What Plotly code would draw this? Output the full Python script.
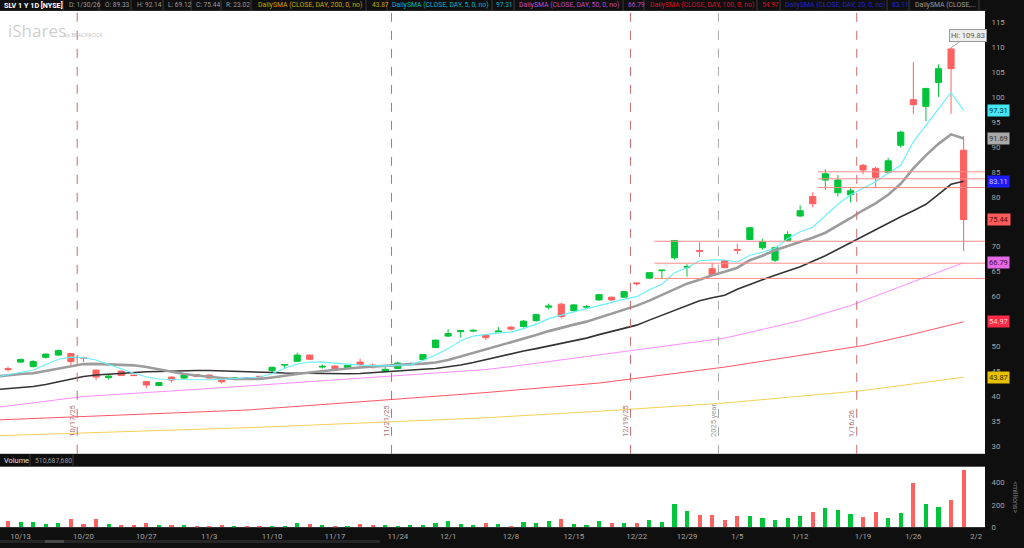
import plotly.graph_objects as go

W, H = 1024, 548

# ---------------- data ----------------
dates = ["10/10",
         "10/13", "10/14", "10/15", "10/16", "10/17",
         "10/20", "10/21", "10/22", "10/23", "10/24",
         "10/27", "10/28", "10/29", "10/30", "10/31",
         "11/3", "11/4", "11/5", "11/6", "11/7",
         "11/10", "11/11", "11/12", "11/13", "11/14",
         "11/17", "11/18", "11/19", "11/20", "11/21",
         "11/24", "11/25", "11/26", "11/28",
         "12/1", "12/2", "12/3", "12/4", "12/5",
         "12/8", "12/9", "12/10", "12/11", "12/12",
         "12/15", "12/16", "12/17", "12/18", "12/19",
         "12/22", "12/23", "12/24", "12/26",
         "12/29", "12/30", "12/31", "1/2",
         "1/5", "1/6", "1/7", "1/8", "1/9",
         "1/12", "1/13", "1/14", "1/15", "1/16",
         "1/20", "1/21", "1/22", "1/23",
         "1/26", "1/27", "1/28", "1/29", "1/30"]

opens = [45.6, 46.9, 46.0, 47.85, 48.3, 48.6, 47.8, 45.3, 43.8, 45.1,
         44.3, 43.0, 42.2, 43.9, 43.7, 44.4, 44.3, 43.3, 43.6, 43.8,
         44.05, 45.2, 46.3, 47.05, 48.3, 45.9, 46.1, 45.8, 46.9, 46.3,
         45.0, 45.6, 46.5, 47.4, 49.8, 52.1, 53.0, 53.1, 52.3, 52.9,
         53.9, 54.0, 55.2, 57.9, 58.5, 57.2, 57.9, 59.35, 59.9, 59.9,
         62.75, 63.7, 65.2, 67.8, 65.9, 69.25, 65.6, 67.2, 69.45, 71.45,
         69.8, 67.3, 71.25, 76.15, 80.05, 83.35, 80.8, 80.4, 86.3, 85.7,
         84.9, 90.3, 99.45, 98.1, 102.9, 109.6, 89.33]
highs = [46.0, 47.6, 47.3, 48.6, 49.4, 48.7, 48.0, 45.4, 44.3, 45.2,
         44.35, 43.0, 42.9, 44.0, 44.6, 44.5, 44.4, 43.4, 43.8, 43.9,
         44.1, 46.0, 46.5, 48.8, 48.4, 46.4, 46.3, 46.3, 47.6, 46.6,
         45.9, 47.0, 46.8, 48.5, 51.4, 53.5, 53.3, 53.5, 52.4, 53.9,
         54.1, 55.3, 56.6, 58.6, 58.8, 58.5, 58.3, 60.5, 60.0, 61.1,
         62.9, 64.9, 65.4, 71.35, 66.5, 70.9, 66.8, 67.3, 70.6, 73.9,
         71.6, 69.9, 73.1, 78.3, 80.9, 85.5, 84.35, 81.7, 86.6, 86.0,
         87.8, 93.2, 106.95, 101.8, 106.5, 109.83, 92.14]
lows = [45.0, 46.7, 45.8, 47.6, 48.1, 46.1, 46.9, 43.3, 43.4, 44.1,
        44.1, 41.7, 42.1, 42.8, 43.5, 43.9, 43.6, 42.6, 43.5, 43.5,
        43.8, 44.9, 45.6, 47.0, 47.3, 45.6, 45.3, 45.7, 45.7, 45.6,
        44.9, 45.5, 46.1, 47.3, 49.7, 51.9, 51.8, 52.9, 51.3, 52.8,
        53.2, 53.8, 55.0, 57.4, 55.6, 57.0, 57.5, 59.2, 59.2, 59.8,
        62.2, 63.5, 63.65, 67.4, 64.0, 67.95, 64.3, 65.7, 68.5, 71.4,
        69.4, 66.9, 71.0, 76.0, 77.9, 81.4, 80.05, 78.9, 84.5, 81.7,
        84.7, 89.8, 96.6, 95.15, 100.0, 96.6, 69.12]
closes = [45.4, 47.4, 47.0, 48.5, 49.2, 47.0, 47.7, 43.9, 44.1, 44.2,
          44.2, 42.3, 42.8, 43.3, 44.3, 44.0, 43.7, 42.95, 43.7, 43.7,
          43.9, 45.85, 46.4, 48.3, 47.45, 46.05, 45.6, 46.2, 46.4, 46.1,
          45.45, 46.7, 46.6, 48.4, 51.3, 52.6, 53.2, 53.25, 51.8, 53.1,
          53.5, 55.1, 56.4, 58.1, 56.0, 58.35, 58.0, 60.4, 59.35, 61.0,
          62.6, 64.8, 65.3, 71.25, 66.0, 69.1, 64.4, 65.8, 69.3, 73.8,
          71.0, 69.8, 72.45, 77.2, 78.6, 84.6, 83.35, 81.2, 85.35, 83.9,
          87.2, 92.95, 98.45, 101.7, 105.65, 105.65, 75.44]
volume_m = [62, 50, 50, 33, 41, 80, 30, 74, 33, 21,
            21, 36, 18, 18, 24, 15, 9, 18, 9, 9,
            9, 15, 15, 44, 33, 24, 15, 12, 27, 18,
            18, 15, 21, 21, 36, 62, 33, 24, 41, 32,
            15, 50, 44, 62, 74, 33, 24, 56, 41, 36,
            44, 68, 50, 213, 148, 110, 110, 65, 101, 101,
            86, 71, 83, 101, 136, 175, 157, 124, 92, 136,
            83, 133, 397, 213, 181, 249, 510.69]

# moving averages (first value = prior session 10/9)
sma5 = [43.9, 44.4, 44.8, 45.3, 46.4, 47.45, 47.9, 47.8, 47.3, 46.4,
        45.45, 44.65, 43.9, 43.5, 43.4, 43.35, 43.35, 43.35, 43.45, 43.6,
        43.75, 43.9, 44.55, 45.65, 46.5, 46.9, 46.9, 46.65, 46.5, 46.3,
        46.2, 46.15, 46.3, 46.35, 47.2, 48.3, 49.6, 51.15, 52.1, 52.5,
        52.75, 52.9, 53.6, 54.5, 55.6, 56.3, 57.0, 57.6, 58.2, 58.9,
        59.5, 60.0, 61.4, 62.5, 64.8, 65.8, 67.2, 67.4, 67.35, 66.95,
        68.3, 68.9, 69.7, 71.6, 73.0, 73.9, 76.2, 78.5, 80.4, 81.7,
        83.0, 84.7, 86.3, 91.0, 94.3, 97.6, 100.9, 97.31]
sma10 = [44.0, 44.3, 44.5, 44.65, 45.1, 45.6, 46.1, 46.5, 46.55, 46.5,
         46.4, 46.25, 45.9, 45.4, 44.9, 44.5, 44.2, 43.9, 43.7, 43.5,
         43.45, 43.5, 43.8, 44.2, 44.5, 44.8, 45.1, 45.4, 45.6, 45.8,
         46.0, 46.1, 46.3, 46.5, 46.6, 46.8, 47.3, 48.0, 48.7, 49.4,
         50.1, 50.8, 51.5, 52.3, 53.1, 53.8, 54.4, 55.0, 55.8, 56.7,
         57.5, 58.2, 59.2, 60.3, 61.5, 62.6, 63.4, 64.3, 65.0, 65.8,
         67.3, 68.2, 69.3, 70.1, 70.9, 71.8, 72.8, 74.2, 75.7, 77.3,
         78.7, 80.4, 82.6, 85.7, 88.3, 90.6, 92.5, 91.69]
sma20 = [41.4, 41.6, 41.8, 42.0, 42.4, 42.9, 43.5, 44.0, 44.3, 44.5,
         44.7, 44.9, 44.95, 45.0, 45.1, 45.15, 45.2, 45.2, 45.15, 45.05,
         45.0, 44.9, 44.8, 44.7, 44.65, 44.6, 44.55, 44.55, 44.55, 44.6,
         44.8, 45.0, 45.15, 45.3, 45.45, 45.6, 45.9, 46.3, 46.8, 47.4,
         48.0, 48.6, 49.1, 49.6, 50.1, 50.6, 51.1, 51.7, 52.4, 53.0,
         53.7, 54.3, 55.3, 56.3, 57.3, 58.3, 59.2, 59.8, 60.3, 61.5,
         62.5, 63.4, 64.3, 65.1, 66.0, 67.1, 68.2, 69.5, 70.8, 72.2,
         73.5, 74.8, 76.0, 77.2, 78.5, 80.5, 82.5, 83.11]
sma50_days = ["10/9", "10/20", "11/3", "11/13", "11/25", "12/4", "12/8", "12/17",
              "12/24", "1/2", "1/12", "1/16", "1/26", "1/30"]
sma50_vals = [37.8, 40.0, 41.6, 43.0, 44.3, 45.4, 46.0, 48.3,
              50.0, 51.7, 55.2, 58.2, 63.0, 66.79]
sma100_days = ["10/9", "11/6", "11/24", "12/4", "12/17", "1/2", "1/20", "1/26", "1/30"]
sma100_vals = [35.3, 37.3, 39.5, 40.8, 42.7, 45.9, 50.2, 52.5, 54.97]
sma200_days = ["10/9", "11/6", "11/24", "12/4", "12/17", "1/2", "1/20", "1/30"]
sma200_vals = [32.15, 33.75, 35.0, 35.75, 37.05, 38.7, 41.2, 43.87]

tick_days = ["10/13", "10/20", "10/27", "11/3", "11/10", "11/17", "11/24", "12/1",
             "12/8", "12/15", "12/22", "12/29", "1/5", "1/12", "1/20", "1/26", "2/2"]
tick_text = ["10/13", "10/20", "10/27", "11/3", "11/10", "11/17", "11/24", "12/1",
             "12/8", "12/15", "12/22", "12/29", "1/5", "1/12", "1/19", "1/26", "2/2"]
price_ticks = [30, 35, 40, 45, 50, 60, 65, 70, 80, 85, 90, 95, 100, 105, 110, 115]
volume_ticks = [0, 200, 400]

event_days = ["10/17", "11/21", "12/19", "12/31", "1/16"]
event_text = ["10/17/25", "11/21/25", "12/19/25", "2025 year", "1/16/26"]

level_values = [71.1, 66.7, 63.65, 85.0, 83.6, 81.85]
level_from_days = ["12/23", "12/23", "12/23", "1/13", "1/13", "1/13"]

last_values = [97.31, 91.69, 83.11, 75.44, 66.79, 54.97, 43.87]

# ---------------- helpers ----------------
def day_pos(d):
    if d == "10/9":
        return -1
    if d in dates:
        return dates.index(d)
    return len(dates)

def py(y):
    return 1 - y / H

def pxx(x):
    return x / W

X_END = 985
xr = [-0.64, 77.7]
main_dom = [py(458), py(11)]
vol_dom = [py(532), py(471)]
GREEN = "#00c43a"
RED = "#ff6161"

xs = list(range(len(dates)))
sx = list(range(-1, len(dates)))

fig = go.Figure()

def sma_trace(xv, yv, color, width):
    fig.add_trace(go.Scatter(x=xv, y=yv, mode="lines", line=dict(color=color, width=width),
                             hoverinfo="skip", showlegend=False, xaxis="x", yaxis="y"))

sma_trace([day_pos(d) for d in sma200_days], sma200_vals, "#f3d155", 1)
sma_trace([day_pos(d) for d in sma100_days], sma100_vals, "#ff5566", 1)
sma_trace([day_pos(d) for d in sma50_days], sma50_vals, "#ff8cff", 1)
sma_trace(sx, sma20, "#333333", 1.6)
sma_trace(sx, sma10, "#9c9c9c", 2.6)
sma_trace(sx, sma5, "#66f0fa", 1.1)

fig.add_trace(go.Candlestick(
    x=xs, open=opens, high=highs, low=lows, close=closes,
    increasing=dict(line=dict(color=GREEN, width=1), fillcolor=GREEN),
    decreasing=dict(line=dict(color=RED, width=1), fillcolor=RED),
    whiskerwidth=0, showlegend=False, xaxis="x", yaxis="y"))

vol_colors = [GREEN if c >= o else RED for o, c in zip(opens, closes)]
fig.add_trace(go.Bar(x=xs, y=volume_m, marker=dict(color=vol_colors, line=dict(width=0)),
                     width=0.33, showlegend=False, xaxis="x2", yaxis="y2"))

shapes = []
annotations = []

# event lines
for d, t in zip(event_days, event_text):
    xp = day_pos(d) + 0.5
    grey = "year" in t
    col = "#a8a8a8" if grey else "#c86a6a"
    shapes.append(dict(type="line", xref="x", yref="paper", x0=xp, x1=xp,
                       y0=main_dom[0], y1=main_dom[1], line=dict(color=col, width=1, dash="dash")))
    annotations.append(dict(x=xp, xref="x", y=py(443), yref="paper", text=t, textangle=-90,
                            showarrow=False, xanchor="center", yanchor="bottom", xshift=-5,
                            font=dict(size=7.5, color="#999999" if grey else "#b07070",
                                      family="Roboto")))

# price levels
for v, d in zip(level_values, level_from_days):
    shapes.append(dict(type="line", xref="x", yref="y", x0=day_pos(d) + 0.4, x1=xr[1] + 1,
                       y0=v, y1=v, line=dict(color="#ff8a8a", width=1)))

# header bar texts
hy = py(5.5)
header = [("SLV 1 Y 1D [NYSE]", 2, "#ffffff"), ("D: 1/30/26", 67, "#9a9a9a"),
          ("O: 89.33", 103, "#9a9a9a"), ("H: 92.14", 135, "#9a9a9a"),
          ("L: 69.12", 166, "#9a9a9a"), ("C: 75.44", 194, "#9a9a9a"),
          ("R: 23.02", 224, "#9a9a9a"),
          ("DailySMA (CLOSE, DAY, 200, 0, no)", 256, "#c9a200"), ("43.87", 370, "#c9a200"),
          ("DailySMA (CLOSE, DAY, 5, 0, no)", 390, "#00b5c8"), ("97.31", 494, "#00b5c8"),
          ("DailySMA (CLOSE, DAY, 50, 0, no)", 517, "#c04ac0"), ("66.79", 626, "#c04ac0"),
          ("DailySMA (CLOSE, DAY, 100, 0, no)", 648, "#d0102e"), ("54.97", 760, "#d0102e"),
          ("DailySMA (CLOSE, DAY, 20, 0, no)", 783, "#2424c8"), ("83.11", 890, "#2424c8"),
          ("DailySMA (CLOSE,...", 913, "#9a9a9a")]
for i, (t, x, c) in enumerate(header):
    if i == 0:
        size = 7.2
    elif t.startswith("DailySMA"):
        size = 6.9
    else:
        size = 6.6
    annotations.append(dict(x=pxx(x), y=hy, xref="paper", yref="paper", text=t, showarrow=False,
                            xanchor="left", yanchor="middle",
                            font=dict(size=size, color=c, family="Roboto",
                                      weight="bold" if i == 0 else "normal")))
for sx_ in [63, 99, 131, 163, 191, 221, 251, 366, 387, 492, 514, 623, 644, 757, 780, 887, 909, 979]:
    shapes.append(dict(type="line", xref="paper", yref="paper", x0=pxx(sx_), x1=pxx(sx_),
                       y0=py(11), y1=py(0), line=dict(color="#3c3c3c", width=1)))

# volume header
annotations.append(dict(x=pxx(2), y=py(465), xref="paper", yref="paper", text="Volume",
                        showarrow=False, xanchor="left", yanchor="middle",
                        font=dict(size=7.4, color="#e0e0e0", family="Roboto")))
annotations.append(dict(x=pxx(33), y=py(465), xref="paper", yref="paper", text="510,687,680",
                        showarrow=False, xanchor="left", yanchor="middle",
                        font=dict(size=6.8, color="#9a9a9a", family="Roboto")))
for sx_ in [30, 73]:
    shapes.append(dict(type="line", xref="paper", yref="paper", x0=pxx(sx_), x1=pxx(sx_),
                       y0=py(471), y1=py(459), line=dict(color="#3c3c3c", width=1)))
annotations.append(dict(x=pxx(1015), y=py(502), xref="paper", yref="paper", text="<millions>",
                        textangle=90, showarrow=False, xanchor="center", yanchor="middle",
                        font=dict(size=7, color="#777777", family="Roboto")))

# watermark
annotations.append(dict(x=pxx(6), y=py(31), xref="paper", yref="paper", text="iShares",
                        showarrow=False, xanchor="left", yanchor="middle",
                        font=dict(size=17, color="#cfcfcf", family="Open Sans")))
annotations.append(dict(x=pxx(62), y=py(35), xref="paper", yref="paper", text="by BLACKROCK",
                        showarrow=False, xanchor="left", yanchor="middle",
                        font=dict(size=5.5, color="#bdbdbd", family="Open Sans")))

# high bubble
annotations.append(dict(x=75, y=highs[75], xref="x", yref="y", text="Hi: 109.83",
                        showarrow=True, arrowhead=0, arrowwidth=1, arrowcolor="#aaaaaa",
                        ax=17, ay=-12, bgcolor="#eeeeee", bordercolor="#9a9a9a", borderwidth=1,
                        borderpad=1, font=dict(size=7.5, color="#555555", family="Roboto")))

# right-axis value badges
badge_bg = ["#44e6f2", "#a9a9a9", "#1c1cff", "#ff5a5a", "#e66ae6", "#ff2a48", "#e6c200"]
badge_fg = ["#003040", "#303030", "#c8c8ff", "#501010", "#401040", "#ffd0d0", "#403000"]
for v, bg, fg in zip(last_values, badge_bg, badge_fg):
    annotations.append(dict(x=pxx(987), y=v, xref="paper", yref="y", text=f"{v:.2f}",
                            showarrow=False, xanchor="left", yanchor="middle", bgcolor=bg,
                            borderpad=1, font=dict(size=7.5, color=fg, family="Roboto")))

# bottom scrollbar
shapes.append(dict(type="rect", xref="paper", yref="paper", x0=0, x1=pxx(380), y0=0, y1=py(545),
                   line=dict(width=0), fillcolor="#262626"))
shapes.append(dict(type="rect", xref="paper", yref="paper", x0=pxx(45), x1=pxx(64), y0=0,
                   y1=py(545), line=dict(width=0), fillcolor="#4a4a4a"))

axis_font = dict(size=7.8, color="#a5a5a5", family="Roboto")

fig.update_layout(
    width=W, height=H, margin=dict(l=0, r=0, t=0, b=0),
    paper_bgcolor="#0f0f0f", plot_bgcolor="#ffffff",
    showlegend=False, bargap=0,
    xaxis=dict(domain=[0, pxx(X_END)], range=xr, anchor="y", showticklabels=False,
               showgrid=False, zeroline=False, rangeslider=dict(visible=False),
               showline=False, fixedrange=True),
    yaxis=dict(domain=main_dom, range=[28.53, 117.22], side="right", anchor="x",
               tickvals=price_ticks, showgrid=False, zeroline=False,
               tickfont=axis_font, ticks="outside", ticklen=4, tickcolor="#0f0f0f",
               showline=False),
    xaxis2=dict(domain=[0, pxx(X_END)], range=xr, anchor="y2", matches="x",
                tickvals=[day_pos(d) for d in tick_days], ticktext=tick_text,
                tickfont=axis_font, showgrid=False, zeroline=False, ticks="outside",
                ticklen=1, tickcolor="#0f0f0f", showline=False),
    yaxis2=dict(domain=vol_dom, range=[0, 542], side="right", anchor="x2",
                tickvals=volume_ticks, showgrid=False, zeroline=False,
                tickfont=axis_font, ticks="outside", ticklen=4, tickcolor="#0f0f0f"),
    shapes=shapes, annotations=annotations,
)

fig.write_html("out.html", config={"displayModeBar": False},
               post_script="document.body.style.margin='0';document.body.style.overflow='hidden';")
